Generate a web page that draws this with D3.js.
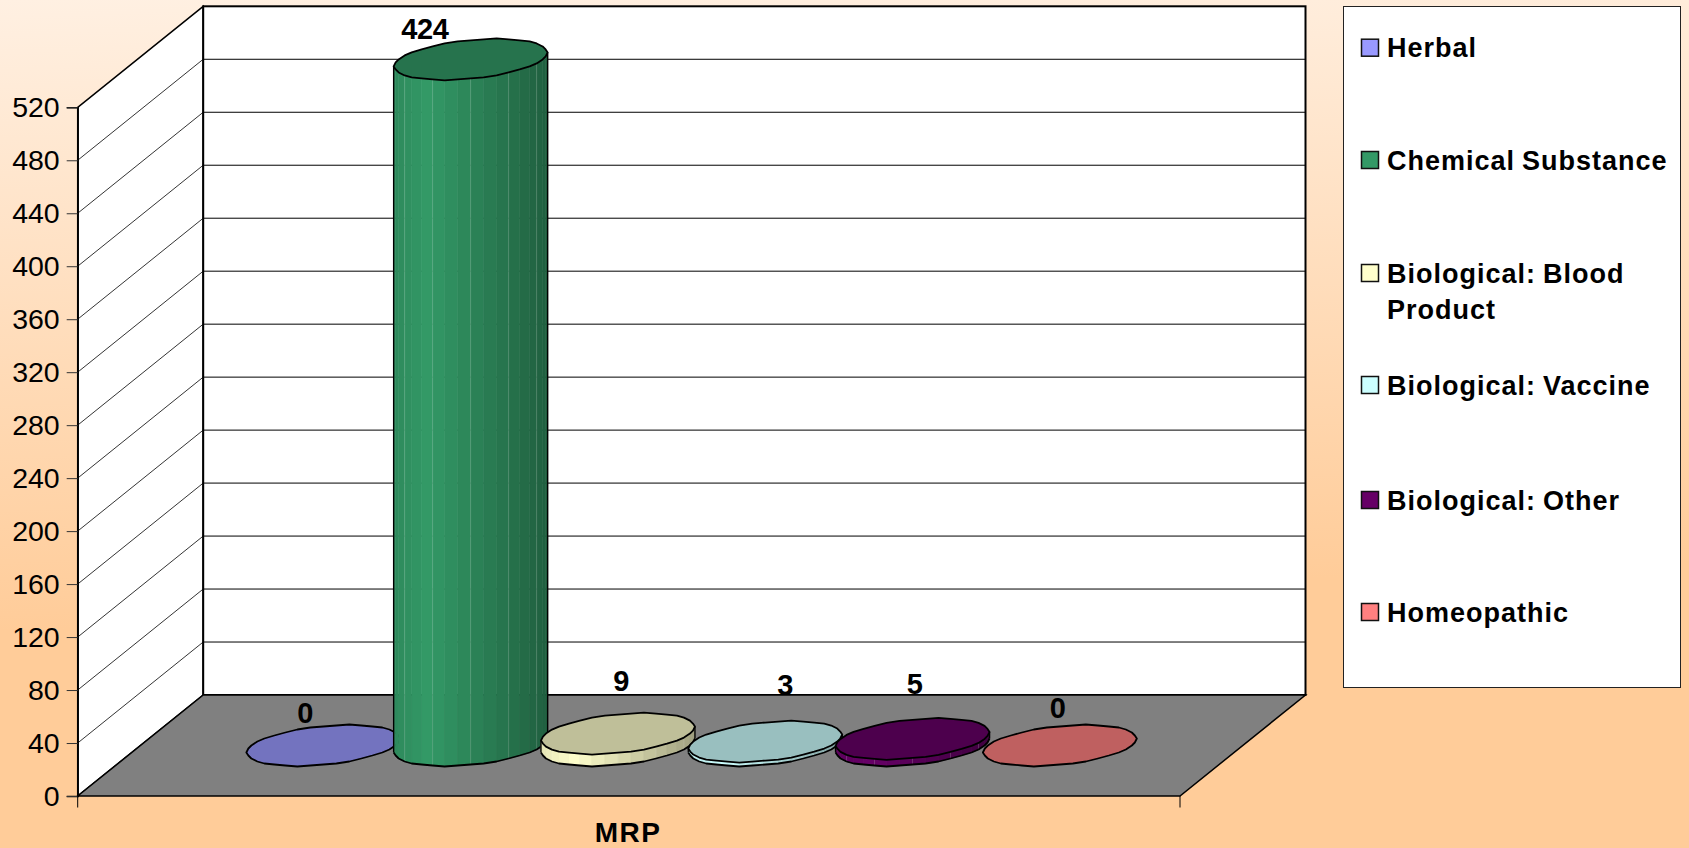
<!DOCTYPE html>
<html><head><meta charset="utf-8">
<script src="https://cdn.jsdelivr.net/npm/d3@7"></script>
<style>html,body{margin:0;padding:0;background:#FFCC99;overflow:hidden}svg{display:block}text{font-family:"Liberation Sans",Arial,sans-serif;fill:#000}</style>
</head><body><svg id="c" width="1689" height="848"></svg>
<script>
const categories = ["Herbal","Chemical Substance","Biological: Blood Product","Biological: Vaccine","Biological: Other","Homeopathic"];
const labelValues = [0,424,9,3,5,0];
// The reference draws the 424 column far taller than its label: up to about 518 on its own axis.
const drawnValues = [0,518,9,3,5,0];
const seriesColors = ["#9999FF","#339966","#FFFFCC","#CCFFFF","#660066","#FF8080"];
const yTicks = d3.range(0,521,40);
const axisMax = 520;
const xLabel = "MRP";

const svg = d3.select("#c");
const defs = svg.append("defs");
const bg = defs.append("linearGradient").attr("id","bg").attr("x1",0).attr("y1",0).attr("x2",0.08).attr("y2",1);
bg.append("stop").attr("offset",0).attr("stop-color","#FFF0E2");
bg.append("stop").attr("offset",0.74).attr("stop-color","#FFCC99");
bg.append("stop").attr("offset",1).attr("stop-color","#FFCC99");
svg.append("rect").attr("width",1689).attr("height",848).attr("fill","url(#bg)");

const F = {x0:77.7,x1:1180,y0:796,y1:107.3}, dx=125.5, dy=101;
const y = d3.scaleLinear().domain([0,axisMax]).range([F.y0,F.y1]);
const x = d3.scaleBand().domain(categories).range([F.x0,F.x1]).paddingInner(0).paddingOuter(0.7417);

// side wall, back wall, floor
const line = d3.line();
svg.append("path").attr("d",line([[F.x0,F.y0],[F.x0+dx,F.y0-dy],[F.x0+dx,F.y1-dy],[F.x0,F.y1]])+"Z").attr("fill","#fff").attr("stroke","#000").attr("stroke-width",1.5);
svg.append("rect").attr("x",F.x0+dx).attr("y",F.y1-dy).attr("width",F.x1-F.x0).attr("height",F.y0-F.y1).attr("fill","#fff");
yTicks.slice(1,-1).forEach(t=>{
  svg.append("line").attr("x1",F.x0).attr("x2",F.x0+dx).attr("y1",y(t)).attr("y2",y(t)-dy).attr("stroke","#000").attr("stroke-width",0.8);
  svg.append("line").attr("x1",F.x0+dx).attr("x2",F.x1+dx).attr("y1",y(t)-dy).attr("y2",y(t)-dy).attr("stroke","#000").attr("stroke-width",1);
});
svg.append("rect").attr("x",F.x0+dx).attr("y",F.y1-dy).attr("width",F.x1-F.x0).attr("height",F.y0-F.y1).attr("fill","none").attr("stroke","#000").attr("stroke-width",2);
svg.append("path").attr("d",line([[F.x0,F.y0],[F.x1,F.y0],[F.x1+dx,F.y0-dy],[F.x0+dx,F.y0-dy]])+"Z").attr("fill","#808080").attr("stroke","#000").attr("stroke-width",1.5);

// value axis and edge ticks
const axisG = svg.append("g").attr("transform",`translate(${F.x0},0)`).call(d3.axisLeft(y).tickValues(yTicks).tickSize(11).tickPadding(7));
axisG.select(".domain").attr("stroke","#000").attr("stroke-width",1.5);
axisG.selectAll(".tick line").attr("stroke","#333");
axisG.selectAll("text").attr("font-size",28.5).attr("font-family",'"Liberation Sans",Arial,sans-serif').attr("fill","#000");
[F.x0,F.x1].forEach(v=>svg.append("line").attr("x1",v).attr("x2",v).attr("y1",F.y0).attr("y2",F.y0+11.5).attr("stroke","#000"));

// cylinders: a sheared circle on the floor plane; vertex 0 is the right extreme, vertex SEG/2 the left
const R = 72.2, K = 0.406, SEG = 36, GRID = 1;
const A = K*dx/2, B = K*dy/2, T0 = Math.atan2(A,R);
const ringOffsets = d3.range(SEG+1).map(i=>{
  const t = T0+i/SEG*2*Math.PI;
  return [Math.round((R*Math.cos(t)+A*Math.sin(t))/GRID)*GRID, Math.round((-B*Math.sin(t))/GRID)*GRID];
});
const ringAt = (cx,cy)=>ringOffsets.map(d=>[cx+d[0],cy+d[1]]);
function shade(c,f){const k=d3.rgb(c);return d3.rgb(k.r*f,k.g*f,k.b*f).formatHex();}
categories.forEach((cat,i)=>{
  const v = drawnValues[i], c = seriesColors[i];
  const cx = x(cat)+x.bandwidth()/2+dx/2, by = F.y0-dy/2, ty = by-(F.y0-y(v));
  const base = ringAt(cx,by), top = ringAt(cx,ty);
  if(v>0){
    const ext = Math.hypot(R,A);
    const g = svg.append("g");
    d3.range(SEG/2,SEG).forEach(j=>{
      const px=(base[j][0]+base[j+1][0])/2;
      const u=(px-(cx-ext))/(2*ext);
      const f = u<0.22 ? 0.9+u*0.45 : 1-(u-0.22)*0.48;
      const col = shade(c,f);
      g.append("path").attr("d",line([base[j],base[j+1],top[j+1],top[j]])+"Z").attr("fill",col).attr("stroke",col).attr("stroke-width",0.6);
      // faint light seams between facets, as on the reference column
      if(j%3===0) g.append("line").attr("x1",base[j][0]).attr("x2",base[j][0]).attr("y1",top[j][1]).attr("y2",base[j][1]).attr("stroke","#fff").attr("stroke-opacity",0.22).attr("stroke-width",0.8);
    });
    [0,SEG/2].forEach(j=>g.append("line").attr("x1",base[j][0]).attr("x2",base[j][0]).attr("y1",top[j][1]).attr("y2",base[j][1]).attr("stroke","#000").attr("stroke-width",1.4));
    g.append("path").attr("d",line(base.slice(SEG/2))).attr("fill","none").attr("stroke","#000").attr("stroke-width",1.8).attr("stroke-linejoin","round");
  }
  svg.append("path").attr("d",line(top)+"Z").attr("fill",shade(c,0.75)).attr("stroke","#000").attr("stroke-width",1.8).attr("stroke-linejoin","round");
});

// data labels, placed as in the reference
const labelAt = [[305,723],[424.8,39],[621,691],[785,695],[914.7,694],[1057.5,718]];
labelValues.forEach((v,i)=>{
  svg.append("text").attr("x",labelAt[i][0]).attr("y",labelAt[i][1]).attr("text-anchor","middle").attr("font-weight","bold").attr("font-size",29).attr("letter-spacing",-0.4).text(v);
});
svg.append("text").attr("x",628).attr("y",842).attr("text-anchor","middle").attr("font-weight","bold").attr("font-size",28).attr("letter-spacing",1.5).text(xLabel);

// legend
svg.append("rect").attr("x",1343.5).attr("y",6.5).attr("width",337).attr("height",681).attr("fill","#fff").attr("stroke","#222").attr("stroke-width",1);
const legendY=[47.7,160,273,385,500,612];
categories.forEach((cat,i)=>{
  svg.append("rect").attr("x",1361.5).attr("y",legendY[i]-8.5).attr("width",17).attr("height",17).attr("fill",seriesColors[i]).attr("stroke","#111").attr("stroke-width",1.5);
  const t = svg.append("text").attr("x",1387).attr("y",legendY[i]+9.5).attr("font-weight","bold").attr("font-size",27).attr("letter-spacing",1).attr("word-spacing",-1.5);
  if(cat==="Biological: Blood Product"){
    t.append("tspan").text("Biological: Blood");
    t.append("tspan").attr("x",1387).attr("dy",36).text("Product");
  } else t.text(cat);
});
</script></body></html>
